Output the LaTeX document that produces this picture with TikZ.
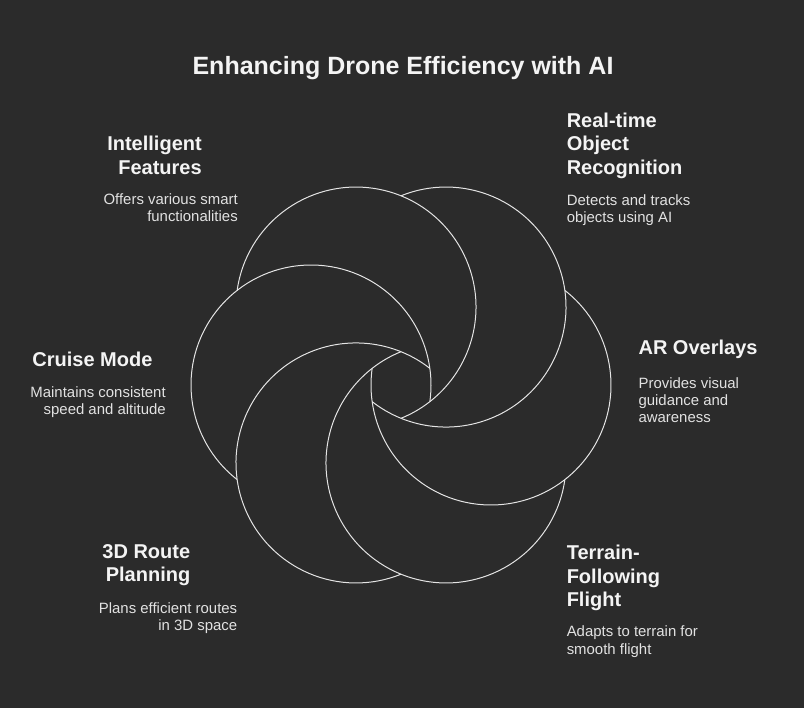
\documentclass[tikz,border=0pt]{standalone}
\usepackage{fontspec}
\setmainfont{Liberation Sans}
\usepackage{tikz}
\usetikzlibrary{positioning}

\definecolor{bgc}{HTML}{2B2B2B}
\definecolor{ringc}{HTML}{E4E4E4}
\definecolor{headc}{HTML}{F4F4F4}
\definecolor{descc}{HTML}{E2E2E2}

\begin{document}
\begin{tikzpicture}[
    x=0.75pt, y=0.75pt,
    % Define styles for the texts and the rings
    title/.style={font=\bfseries\fontsize{18.75}{22}\selectfont, text=headc, inner sep=0pt},
    heading/.style={font=\bfseries\fontsize{15}{17.7}\selectfont, text=headc, inner sep=0pt},
    desc/.style={font=\fontsize{11.2}{13.1}\selectfont, text=descc, inner sep=0pt},
    ring/.style={draw=ringc, line width=0.75pt}
]
    % Background
    \fill[bgc] (0,0) rectangle (804,708);

    % Title
    \node[title, anchor=base] (title) at (403,633) {Enhancing Drone Efficiency with AI};

    % Rings (six arcs around the centre)
    \coordinate (O) at (401,323);
    \foreach \a in {0,60,...,300}
        \draw[ring] (O) ++(\a:90) ++(\a+52:120) arc[start angle=\a+52, end angle=\a-188, radius=120];

    % Left side labels (anchored at the baseline of the last line)
    \node[heading, align=right, anchor=base east] (feat) at (202,533.7) {Intelligent\\Features};
    \node[desc, align=right, anchor=base east] (featd) at (238,486) {Offers various smart\\functionalities};

    \node[heading, align=right, anchor=base east] (cruise) at (152.7,341.3) {Cruise Mode};
    \node[desc, align=right, anchor=base east] (cruised) at (166,293.5) {Maintains consistent\\speed and altitude};

    \node[heading, align=right, anchor=base east] (route) at (190.5,126.3) {3D Route\\Planning};
    \node[desc, align=right, anchor=base east] (routed) at (237.5,77.3) {Plans efficient routes\\in 3D space};

    % Right side labels
    \node[heading, align=left, anchor=base west] (recog) at (566.5,533.5) {Real-time\\Object\\Recognition};
    \node[desc, align=left, anchor=base west] (recogd) at (566.5,485.5) {Detects and tracks\\objects using AI};

    \node[heading, align=left, anchor=base west] (ar) at (638.3,353) {AR Overlays};
    \node[desc, align=left, anchor=base west] (ard) at (638.3,285) {Provides visual\\guidance and\\awareness};

    \node[heading, align=left, anchor=base west] (terrain) at (566.5,101.3) {Terrain-\\Following\\Flight};
    \node[desc, align=left, anchor=base west] (terraind) at (566.5,53.7) {Adapts to terrain for\\smooth flight};
\end{tikzpicture}
\end{document}
